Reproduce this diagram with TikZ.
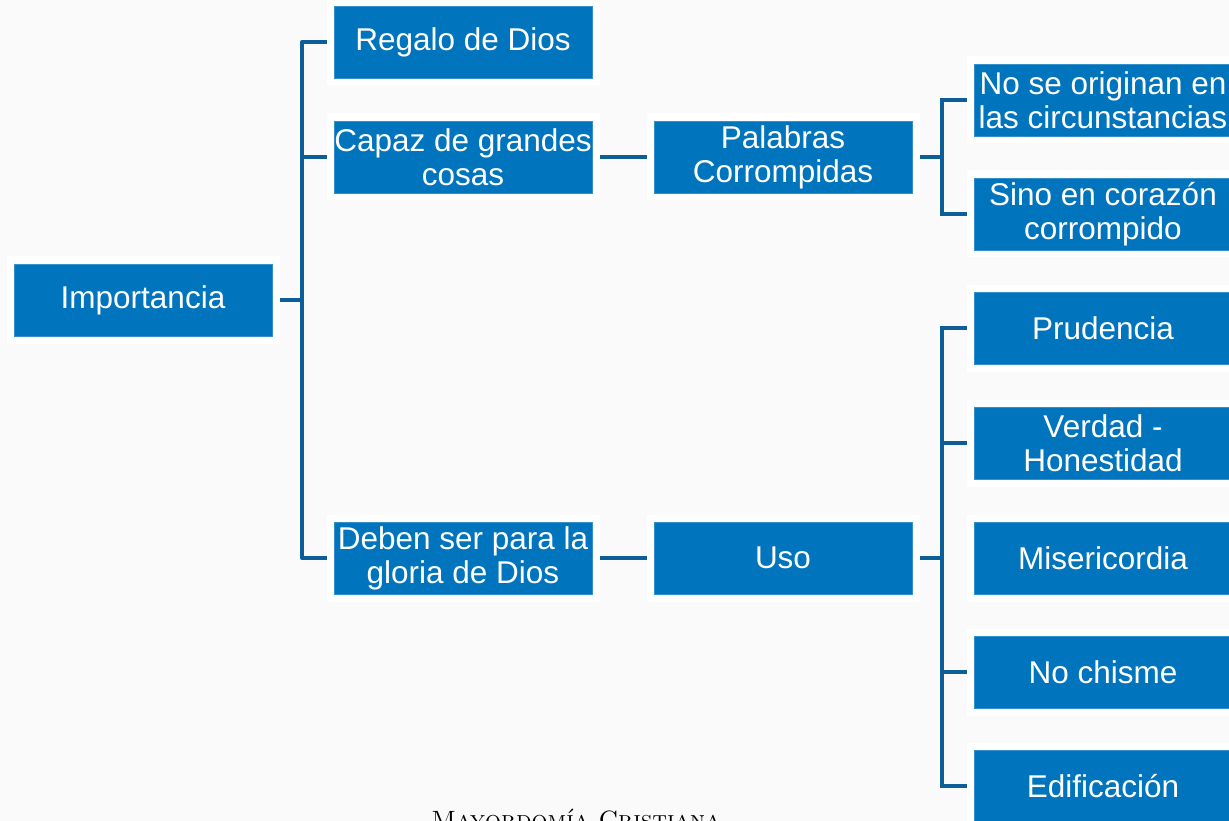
\documentclass[tikz,border=0pt]{standalone}
\usepackage{fontspec}
\usepackage{xcolor}
\newfontfamily\boxfont{Liberation Sans}
\usetikzlibrary{backgrounds}
\definecolor{boxblue}{RGB}{0,116,189}
\definecolor{linkblue}{RGB}{12,94,150}
\definecolor{pagegray}{RGB}{250,250,250}
\tikzset{
  topic/.style={rectangle, fill=boxblue, draw=boxblue!80!white, line width=0.6pt,
    preaction={draw=white, line width=15pt},
    minimum width=258pt, minimum height=72pt, inner sep=0pt,
    align=center, text=white, font=\boxfont\fontsize{31.5}{34}\selectfont},
  link/.style={draw=linkblue, line width=4pt}
}

\begin{document}
\begin{tikzpicture}[x=1pt,y=-1pt]
\useasboundingbox (0,0) rectangle (1229,821);
\begin{scope}[on background layer]
\fill[pagegray] (0,0) rectangle (1229,821);
\end{scope}
% first level
\node[topic] (imp) at (143,300) {Importancia};
\node[topic] (regalo) at (463,42) {Regalo de Dios};
\node[topic] (capaz) at (463,157) {Capaz de grandes\\cosas};
\node[topic] (deben) at (463,558) {Deben ser para la\\gloria de Dios};
% second level
\node[topic] (palabras) at (783,157) {Palabras\\Corrompidas};
\node[topic] (uso) at (783,558) {Uso};
% third level
\node[topic] (origen) at (1103,100) {No se originan en\\las circunstancias};
\node[topic] (sino) at (1103,214) {Sino en coraz\'on\\corrompido};
\node[topic] (prudencia) at (1103,328) {Prudencia};
\node[topic] (verdad) at (1103,443) {Verdad -\\Honestidad};
\node[topic] (miseri) at (1103,558) {Misericordia};
\node[topic] (chisme) at (1103,672) {No chisme};
\node[topic] (edif) at (1103,786) {Edificaci\'on};
\node[anchor=north, font=\fontsize{25}{27}\selectfont] (pie) at (576,806) {\textsc{Mayordom\'ia Cristiana}};
\begin{scope}[on background layer]
\draw[link] (imp.east) -- ++(30,0) coordinate (b1);
\draw[link, line join=round] (regalo.west) -| (b1) |- (deben.west);
\draw[link] (b1) |- (capaz.west);
\draw[link] (capaz.east) -- (palabras.west);
\draw[link] (deben.east) -- (uso.west);
\draw[link] (palabras.east) -- ++(30,0) coordinate (b2);
\draw[link] (origen.west) -| (b2) |- (sino.west);
\draw[link] (uso.east) -- ++(30,0) coordinate (b3);
\draw[link] (prudencia.west) -| (b3) |- (edif.west);
\draw[link] (b3) |- (verdad.west);
\draw[link] (b3) |- (chisme.west);
\end{scope}
\end{tikzpicture}
\end{document}
